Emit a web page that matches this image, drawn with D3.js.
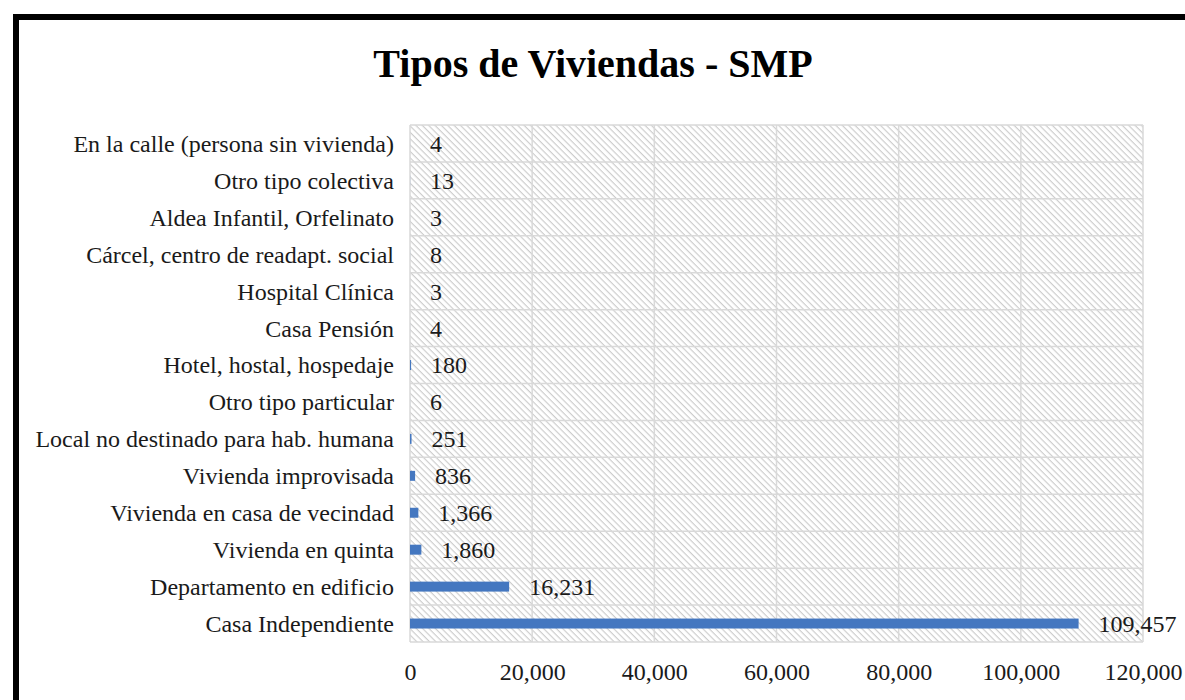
<!DOCTYPE html>
<html>
<head>
<meta charset="utf-8">
<script src="https://cdn.jsdelivr.net/npm/d3@7"></script>
<style>
    body { margin: 0; background: #fff; }
</style>
</head>
<body>
<div class="chart"></div>
<script>
const width = 1185;
const height = 700;

const categories = [
    'En la calle (persona sin vivienda)',
    'Otro tipo colectiva',
    'Aldea Infantil, Orfelinato',
    'Cárcel, centro de readapt. social',
    'Hospital Clínica',
    'Casa Pensión',
    'Hotel, hostal, hospedaje',
    'Otro tipo particular',
    'Local no destinado para hab. humana',
    'Vivienda improvisada',
    'Vivienda en casa de vecindad',
    'Vivienda en quinta',
    'Departamento en edificio',
    'Casa Independiente'
];
const values = [4, 13, 3, 8, 3, 4, 180, 6, 251, 836, 1366, 1860, 16231, 109457];
const xTicks = [0, 20000, 40000, 60000, 80000, 100000, 120000];

const barBlue = '#4477c0';
const gridGrey = '#d9d9d9';
const serifFont = '"Liberation Serif", "Times New Roman", Times';

const margin = {top: 125, right: 42, bottom: 58, left: 410};
const plotW = width - margin.left - margin.right;
const plotH = height - margin.top - margin.bottom;

const svg = d3.select('.chart')
    .append('svg')
    .attr('width', width)
    .attr('height', height)
    .style('display', 'block')
    .style('font-family', serifFont);

// hatch pattern for the plot area
const pattern = svg.append('defs')
    .append('pattern')
    .attr('id', 'hatch')
    .attr('width', 4.5)
    .attr('height', 4.5)
    .attr('patternUnits', 'userSpaceOnUse')
    .attr('patternTransform', 'rotate(45)');
pattern.append('rect')
    .attr('width', 4.5)
    .attr('height', 4.5)
    .attr('fill', '#fff');
pattern.append('line')
    .attr('x1', 0).attr('y1', 0.6)
    .attr('x2', 4.5).attr('y2', 0.6)
    .attr('stroke', '#c9c9c9')
    .attr('stroke-width', 1.1);

// outer frame (only top and left edges visible)
svg.append('rect')
    .attr('x', 16)
    .attr('y', 17)
    .attr('width', 1400)
    .attr('height', 1000)
    .attr('fill', 'none')
    .attr('stroke', '#000')
    .attr('stroke-width', 6);

svg.append('text')
    .attr('x', 593)
    .attr('y', 77)
    .attr('text-anchor', 'middle')
    .style('font-family', serifFont)
    .style('font-size', '40px')
    .style('font-weight', 'bold')
    .attr('fill', '#000')
    .text('Tipos de Viviendas - SMP');

const g = svg.append('g')
    .attr('transform', `translate(${margin.left}, ${margin.top})`);

const x = d3.scaleLinear()
    .domain([0, 120000])
    .range([0, plotW]);

const y = d3.scaleBand()
    .domain(categories)
    .range([0, plotH])
    .paddingInner(0.73)
    .paddingOuter(0.365);

const yGrid = d3.scaleBand()
    .domain(categories)
    .range([0, plotH]);

g.append('rect')
    .attr('width', plotW)
    .attr('height', plotH)
    .attr('fill', 'url(#hatch)');

// vertical gridlines
g.selectAll('.vgrid')
    .data(xTicks)
    .enter()
    .append('line')
    .attr('x1', d => x(d))
    .attr('x2', d => x(d))
    .attr('y1', 0)
    .attr('y2', plotH)
    .attr('stroke', gridGrey)
    .attr('stroke-width', 1.5);

// horizontal gridlines between categories
const bounds = categories.map(c => yGrid(c)).concat([plotH]);
g.selectAll('.hgrid')
    .data(bounds)
    .enter()
    .append('line')
    .attr('x1', 0)
    .attr('x2', plotW)
    .attr('y1', d => d)
    .attr('y2', d => d)
    .attr('stroke', gridGrey)
    .attr('stroke-width', 1.5);

// bars
g.selectAll('.bar')
    .data(values)
    .enter()
    .append('rect')
    .attr('x', 0)
    .attr('y', (d, i) => y(categories[i]))
    .attr('width', d => x(d))
    .attr('height', y.bandwidth())
    .attr('fill', barBlue);

// value labels
g.selectAll('.val')
    .data(values)
    .enter()
    .append('text')
    .attr('x', d => x(d) + 20)
    .attr('y', (d, i) => y(categories[i]) + y.bandwidth() / 2)
    .attr('dy', '0.35em')
    .style('font-family', serifFont)
    .style('font-size', '24px')
    .attr('fill', '#1a1a1a')
    .text(d => d3.format(',')(d));

// axes
const yAxis = g.append('g')
    .call(d3.axisLeft(yGrid).tickSize(0).tickPadding(16));
yAxis.select('.domain').remove();
yAxis.selectAll('text')
    .style('font-family', serifFont)
    .style('font-size', '24px')
    .attr('fill', '#1a1a1a')
    .attr('dy', '0.35em');

const xAxis = g.append('g')
    .attr('transform', `translate(0, ${plotH})`)
    .call(d3.axisBottom(x).tickValues(xTicks).tickFormat(d3.format(',')).tickSize(0));
xAxis.select('.domain').remove();
xAxis.selectAll('text')
    .style('font-family', serifFont)
    .style('font-size', '24px')
    .attr('fill', '#1a1a1a')
    .attr('dy', null)
    .attr('y', 38);
</script>
</body>
</html>
